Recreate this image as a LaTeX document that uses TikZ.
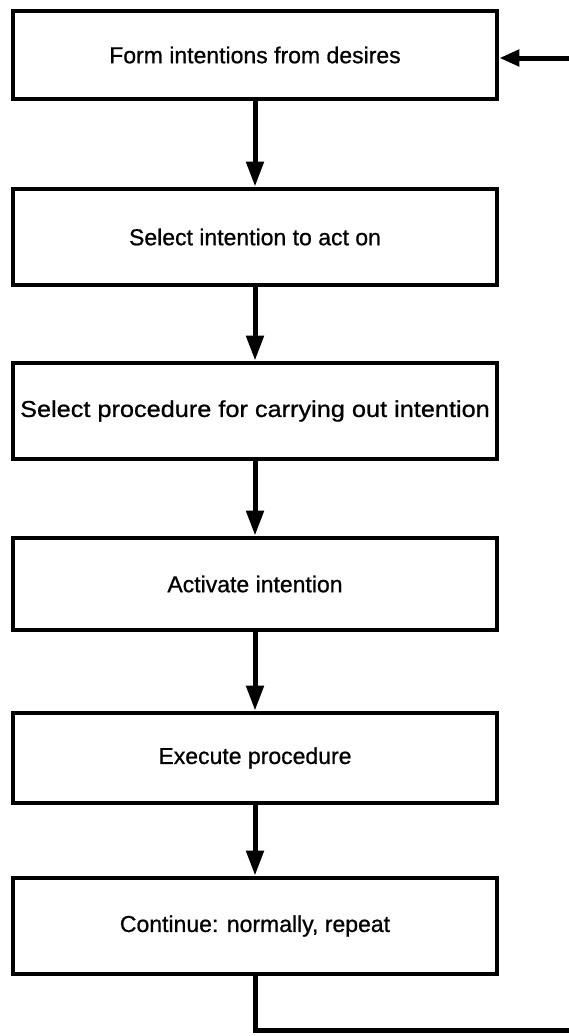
\documentclass[tikz,border=0pt]{standalone}
\usepackage{fontspec}
\setmainfont[FakeBold=0.8,AutoFakeBold=0.8]{Liberation Sans}
\usetikzlibrary{arrows.meta}
\begin{document}
\begin{tikzpicture}[x=1pt,y=-1pt,
  stepbox/.style={draw, line width=4.8pt, minimum width=484pt, inner sep=0pt,
    font=\fontsize{23}{27}\selectfont\bfseries, anchor=center},
  flow/.style={line width=5pt, -{Triangle[length=25pt,width=17pt]}},
  wire/.style={line width=5pt, line join=miter}
]
\useasboundingbox (0,0) rectangle (569,1036);
\node[stepbox, minimum height=88pt] (b1) at (255,55) {Form intentions from desires};
\node[stepbox, minimum height=96pt] (b2) at (255,237) {Select intention to act on};
\node[stepbox, minimum height=96pt] (b3) at (255,411) {\scalebox{1.1}[1]{Select procedure for carrying out intention}};
\node[stepbox, minimum height=92pt] (b4) at (255,584) {Activate intention};
\node[stepbox, minimum height=90pt] (b5) at (255,758) {Execute procedure};
\node[stepbox, minimum height=96pt] (b6) at (255,926) {Continue: normally, repeat};
\draw[flow] (b1) -- (b2);
\draw[flow] (b2) -- (b3);
\draw[flow] (b3) -- (b4);
\draw[flow] (b4) -- (b5);
\draw[flow] (b5) -- (b6);
\coordinate (lb) at (255,1030);
\coordinate (rb) at (569,1030);
\coordinate (rin) at (569,58);
\draw[wire] (b6.south) -- (lb) -- (rb);
\draw[line width=5pt, -{Triangle[length=20pt,width=16pt]}] (rin) -- (rin -| b1.east);
\end{tikzpicture}
\end{document}
